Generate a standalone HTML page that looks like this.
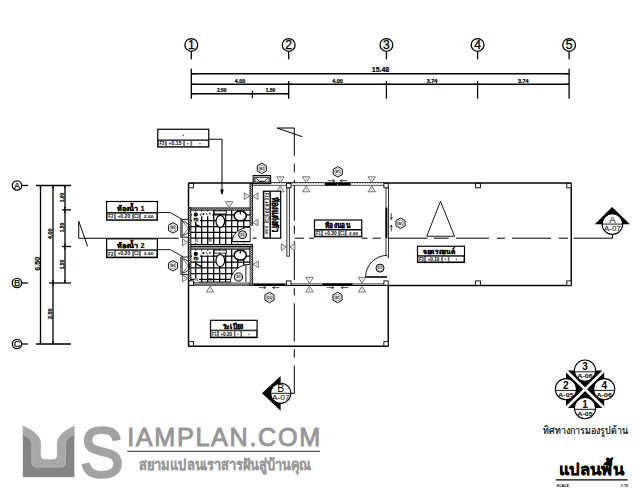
<!DOCTYPE html>
<html><head><meta charset="utf-8"><title>plan</title>
<style>html,body{margin:0;padding:0;background:#fff;overflow:hidden}svg{display:block}text{font-family:"Liberation Sans",sans-serif}</style>
</head><body>
<svg width="640" height="491" viewBox="0 0 640 491" fill="none">
<defs><pattern id="h" width="1.8" height="1.8" patternUnits="userSpaceOnUse"><rect width="1.8" height="1.8" fill="#fff"/><path d="M-0.45 0.45L0.45 -0.45M0 1.8L1.8 0M1.35 2.25L2.25 1.35" stroke="#000" stroke-width="0.8"/></pattern><pattern id="h2" width="2.6" height="2.6" patternUnits="userSpaceOnUse"><rect width="2.6" height="2.6" fill="#fff"/><path d="M0.4 2.2L2.2 0.4" stroke="#222" stroke-width="0.55"/></pattern></defs>
<rect width="640" height="491" fill="#fff"/>
<circle cx="191.3" cy="44.9" r="6.4" fill="none" stroke="#000" stroke-width="1.25"/>
<text x="191.3" y="49.3" font-size="12.2" font-weight="normal" text-anchor="middle" fill="#000" stroke="#000" stroke-width="0.3">1</text>
<line x1="191.3" y1="51.6" x2="191.3" y2="59.3" stroke="#000" stroke-width="1.3" />
<circle cx="288.7" cy="44.9" r="6.4" fill="none" stroke="#000" stroke-width="1.25"/>
<text x="288.7" y="49.3" font-size="12.2" font-weight="normal" text-anchor="middle" fill="#000" stroke="#000" stroke-width="0.3">2</text>
<line x1="288.7" y1="51.6" x2="288.7" y2="59.3" stroke="#000" stroke-width="1.3" />
<circle cx="386.4" cy="44.9" r="6.4" fill="none" stroke="#000" stroke-width="1.25"/>
<text x="386.4" y="49.3" font-size="12.2" font-weight="normal" text-anchor="middle" fill="#000" stroke="#000" stroke-width="0.3">3</text>
<line x1="386.4" y1="51.6" x2="386.4" y2="59.3" stroke="#000" stroke-width="1.3" />
<circle cx="477.6" cy="44.9" r="6.4" fill="none" stroke="#000" stroke-width="1.25"/>
<text x="477.6" y="49.3" font-size="12.2" font-weight="normal" text-anchor="middle" fill="#000" stroke="#000" stroke-width="0.3">4</text>
<line x1="477.6" y1="51.6" x2="477.6" y2="59.3" stroke="#000" stroke-width="1.3" />
<circle cx="569.1" cy="44.9" r="6.4" fill="none" stroke="#000" stroke-width="1.25"/>
<text x="569.1" y="49.3" font-size="12.2" font-weight="normal" text-anchor="middle" fill="#000" stroke="#000" stroke-width="0.3">5</text>
<line x1="569.1" y1="51.6" x2="569.1" y2="59.3" stroke="#000" stroke-width="1.3" />
<line x1="191.3" y1="73.75" x2="569.1" y2="73.75" stroke="#000" stroke-width="1.3" />
<line x1="191.3" y1="84.25" x2="569.1" y2="84.25" stroke="#000" stroke-width="1.3" />
<line x1="191.3" y1="93.75" x2="288.7" y2="93.75" stroke="#000" stroke-width="1.3" />
<line x1="191.3" y1="68.75" x2="191.3" y2="98.75" stroke="#000" stroke-width="1.3" />
<line x1="288.7" y1="81" x2="288.7" y2="98.75" stroke="#000" stroke-width="1.3" />
<line x1="252.4" y1="90.75" x2="252.4" y2="98" stroke="#000" stroke-width="1.3" />
<line x1="386.4" y1="81" x2="386.4" y2="98.75" stroke="#000" stroke-width="1.3" />
<line x1="477.6" y1="81" x2="477.6" y2="98.75" stroke="#000" stroke-width="1.3" />
<line x1="569.1" y1="68.75" x2="569.1" y2="98.75" stroke="#000" stroke-width="1.3" />
<polygon points="191.3,73.75 194.1,73 194.1,74.5" fill="#000" stroke="#000" stroke-width="0.2" />
<polygon points="569.1,73.75 566.3,74.5 566.3,73" fill="#000" stroke="#000" stroke-width="0.2" />
<polygon points="191.3,84.25 194.1,83.5 194.1,85" fill="#000" stroke="#000" stroke-width="0.2" />
<polygon points="288.7,84.25 285.9,85 285.9,83.5" fill="#000" stroke="#000" stroke-width="0.2" />
<polygon points="288.7,84.25 291.5,83.5 291.5,85" fill="#000" stroke="#000" stroke-width="0.2" />
<polygon points="386.4,84.25 383.6,85 383.6,83.5" fill="#000" stroke="#000" stroke-width="0.2" />
<polygon points="386.4,84.25 389.2,83.5 389.2,85" fill="#000" stroke="#000" stroke-width="0.2" />
<polygon points="477.6,84.25 474.8,85 474.8,83.5" fill="#000" stroke="#000" stroke-width="0.2" />
<polygon points="477.6,84.25 480.4,83.5 480.4,85" fill="#000" stroke="#000" stroke-width="0.2" />
<polygon points="569.1,84.25 566.3,85 566.3,83.5" fill="#000" stroke="#000" stroke-width="0.2" />
<polygon points="191.3,93.75 194.1,93 194.1,94.5" fill="#000" stroke="#000" stroke-width="0.2" />
<polygon points="252.4,93.75 249.6,94.5 249.6,93" fill="#000" stroke="#000" stroke-width="0.2" />
<polygon points="252.4,93.75 255.2,93 255.2,94.5" fill="#000" stroke="#000" stroke-width="0.2" />
<polygon points="288.7,93.75 285.9,94.5 285.9,93" fill="#000" stroke="#000" stroke-width="0.2" />
<text x="380.5" y="72.3" font-size="7.2" font-weight="bold" text-anchor="middle" fill="#000" textLength="17.5" lengthAdjust="spacingAndGlyphs" stroke="#000" stroke-width="0.2">15.48</text>
<text x="240" y="82.7" font-size="4.8" font-weight="bold" text-anchor="middle" fill="#000" textLength="10.6" lengthAdjust="spacingAndGlyphs" stroke="#000" stroke-width="0.2">4.00</text>
<text x="337.5" y="82.7" font-size="4.8" font-weight="bold" text-anchor="middle" fill="#000" textLength="10.6" lengthAdjust="spacingAndGlyphs" stroke="#000" stroke-width="0.2">4.00</text>
<text x="432" y="82.7" font-size="4.8" font-weight="bold" text-anchor="middle" fill="#000" textLength="10.6" lengthAdjust="spacingAndGlyphs" stroke="#000" stroke-width="0.2">3.74</text>
<text x="523.2" y="82.7" font-size="4.8" font-weight="bold" text-anchor="middle" fill="#000" textLength="10.6" lengthAdjust="spacingAndGlyphs" stroke="#000" stroke-width="0.2">3.74</text>
<text x="221.75" y="92.3" font-size="4.6" font-weight="bold" text-anchor="middle" fill="#000" textLength="9.6" lengthAdjust="spacingAndGlyphs" stroke="#000" stroke-width="0.2">2.50</text>
<text x="270.5" y="92.3" font-size="4.6" font-weight="bold" text-anchor="middle" fill="#000" textLength="9.6" lengthAdjust="spacingAndGlyphs" stroke="#000" stroke-width="0.2">1.50</text>
<circle cx="17" cy="185.5" r="4.7" fill="none" stroke="#000" stroke-width="1.3"/>
<text x="17" y="188.8" font-size="9.2" font-weight="normal" text-anchor="middle" fill="#000" stroke="#000" stroke-width="0.25">A</text>
<line x1="21.6" y1="185.5" x2="28" y2="185.5" stroke="#000" stroke-width="1.3" />
<circle cx="17" cy="283" r="4.7" fill="none" stroke="#000" stroke-width="1.3"/>
<text x="17" y="286.3" font-size="9.2" font-weight="normal" text-anchor="middle" fill="#000" stroke="#000" stroke-width="0.25">B</text>
<line x1="21.6" y1="283" x2="28" y2="283" stroke="#000" stroke-width="1.3" />
<circle cx="17" cy="344" r="4.7" fill="none" stroke="#000" stroke-width="1.3"/>
<text x="17" y="347.3" font-size="9.2" font-weight="normal" text-anchor="middle" fill="#000" stroke="#000" stroke-width="0.25">C</text>
<line x1="21.6" y1="344" x2="28" y2="344" stroke="#000" stroke-width="1.3" />
<line x1="36" y1="185.5" x2="71" y2="185.5" stroke="#000" stroke-width="1.3" />
<line x1="49" y1="283" x2="71" y2="283" stroke="#000" stroke-width="1.3" />
<line x1="36" y1="344" x2="71" y2="344" stroke="#000" stroke-width="1.3" />
<line x1="62" y1="209.9" x2="71" y2="209.9" stroke="#000" stroke-width="1.3" />
<line x1="62" y1="246.5" x2="71" y2="246.5" stroke="#000" stroke-width="1.3" />
<line x1="40.5" y1="185.5" x2="40.5" y2="344" stroke="#000" stroke-width="1.3" />
<line x1="53" y1="185.5" x2="53" y2="344" stroke="#000" stroke-width="1.3" />
<line x1="65" y1="185.5" x2="65" y2="283" stroke="#000" stroke-width="1.3" />
<polygon points="40.5,185.5 41.25,188.3 39.75,188.3" fill="#000" stroke="#000" stroke-width="0.2" />
<polygon points="40.5,344 39.75,341.2 41.25,341.2" fill="#000" stroke="#000" stroke-width="0.2" />
<polygon points="53,185.5 53.75,188.3 52.25,188.3" fill="#000" stroke="#000" stroke-width="0.2" />
<polygon points="53,283 52.25,280.2 53.75,280.2" fill="#000" stroke="#000" stroke-width="0.2" />
<polygon points="53,283 53.75,285.8 52.25,285.8" fill="#000" stroke="#000" stroke-width="0.2" />
<polygon points="53,344 52.25,341.2 53.75,341.2" fill="#000" stroke="#000" stroke-width="0.2" />
<polygon points="65,185.5 65.75,188.3 64.25,188.3" fill="#000" stroke="#000" stroke-width="0.2" />
<polygon points="65,209.9 64.25,207.1 65.75,207.1" fill="#000" stroke="#000" stroke-width="0.2" />
<polygon points="65,209.9 65.75,212.7 64.25,212.7" fill="#000" stroke="#000" stroke-width="0.2" />
<polygon points="65,246.5 64.25,243.7 65.75,243.7" fill="#000" stroke="#000" stroke-width="0.2" />
<polygon points="65,246.5 65.75,249.3 64.25,249.3" fill="#000" stroke="#000" stroke-width="0.2" />
<polygon points="65,283 64.25,280.2 65.75,280.2" fill="#000" stroke="#000" stroke-width="0.2" />
<text x="39.6" y="263.75" font-size="7.2" font-weight="bold" text-anchor="middle" fill="#000" transform="rotate(-90 39.6 263.75)" textLength="14" lengthAdjust="spacingAndGlyphs" stroke="#000" stroke-width="0.2">6.50</text>
<text x="52.1" y="233.75" font-size="4.8" font-weight="bold" text-anchor="middle" fill="#000" transform="rotate(-90 52.1 233.75)" textLength="10.6" lengthAdjust="spacingAndGlyphs" stroke="#000" stroke-width="0.2">4.00</text>
<text x="52.1" y="313.75" font-size="4.8" font-weight="bold" text-anchor="middle" fill="#000" transform="rotate(-90 52.1 313.75)" textLength="10.6" lengthAdjust="spacingAndGlyphs" stroke="#000" stroke-width="0.2">2.50</text>
<text x="64.3" y="197.5" font-size="4.6" font-weight="bold" text-anchor="middle" fill="#000" transform="rotate(-90 64.3 197.5)" textLength="9.6" lengthAdjust="spacingAndGlyphs" stroke="#000" stroke-width="0.2">1.00</text>
<text x="64.3" y="227.5" font-size="4.6" font-weight="bold" text-anchor="middle" fill="#000" transform="rotate(-90 64.3 227.5)" textLength="9.6" lengthAdjust="spacingAndGlyphs" stroke="#000" stroke-width="0.2">1.50</text>
<text x="64.3" y="264.5" font-size="4.6" font-weight="bold" text-anchor="middle" fill="#000" transform="rotate(-90 64.3 264.5)" textLength="9.6" lengthAdjust="spacingAndGlyphs" stroke="#000" stroke-width="0.2">1.50</text>
<polyline points="87.5,246.25 78.75,221.25 78.75,238.25 178.7,238.25" fill="none" stroke="#000" stroke-width="1" />
<polyline points="302.3,136.7 277.1,128 294.4,128" fill="none" stroke="#000" stroke-width="1" />
<line x1="294.3" y1="128" x2="294.3" y2="155.6" stroke="#000" stroke-width="1" />
<line x1="294.3" y1="163.5" x2="294.3" y2="172.5" stroke="#000" stroke-width="1" />
<line x1="294.3" y1="180" x2="294.3" y2="220.8" stroke="#000" stroke-width="1" />
<line x1="294.3" y1="225.7" x2="294.3" y2="233.8" stroke="#000" stroke-width="1" />
<line x1="294.3" y1="241.1" x2="294.3" y2="280.2" stroke="#000" stroke-width="1" />
<line x1="294.3" y1="288.2" x2="294.3" y2="295.5" stroke="#000" stroke-width="1" />
<line x1="294.3" y1="303.3" x2="294.3" y2="341.6" stroke="#000" stroke-width="1" />
<line x1="294.3" y1="349.2" x2="294.3" y2="357.5" stroke="#000" stroke-width="1" />
<line x1="294.3" y1="365.4" x2="294.3" y2="393.3" stroke="#000" stroke-width="1" />
<line x1="248.5" y1="238.2" x2="256.6" y2="238.2" stroke="#000" stroke-width="1" />
<line x1="294.7" y1="238.2" x2="304" y2="238.2" stroke="#000" stroke-width="1" />
<line x1="309" y1="238.2" x2="314" y2="238.2" stroke="#000" stroke-width="1" />
<line x1="361.75" y1="238.2" x2="367.5" y2="238.2" stroke="#000" stroke-width="1" />
<line x1="372.5" y1="238.2" x2="380.7" y2="238.2" stroke="#000" stroke-width="1" />
<line x1="388.5" y1="238.2" x2="427.5" y2="238.2" stroke="#000" stroke-width="1" />
<line x1="433.75" y1="238.2" x2="448.75" y2="238.2" stroke="#000" stroke-width="1" />
<line x1="456" y1="238.2" x2="489" y2="238.2" stroke="#000" stroke-width="1" />
<line x1="497" y1="238.2" x2="505" y2="238.2" stroke="#000" stroke-width="1" />
<line x1="512" y1="238.2" x2="551" y2="238.2" stroke="#000" stroke-width="1" />
<line x1="558.75" y1="238.2" x2="568" y2="238.2" stroke="#000" stroke-width="1" />
<polyline points="573.75,238.2 612.5,238.2 612.5,234.5" fill="none" stroke="#000" stroke-width="1" />
<line x1="294.3" y1="393.3" x2="290" y2="393.3" stroke="#000" stroke-width="1" />
<line x1="188.5" y1="183" x2="571.25" y2="183" stroke="#000" stroke-width="1.45" />
<line x1="571.25" y1="183" x2="571.25" y2="285.5" stroke="#000" stroke-width="1.45" />
<line x1="388.25" y1="285.5" x2="571.25" y2="285.5" stroke="#000" stroke-width="1.45" />
<line x1="188.5" y1="183" x2="188.5" y2="346.25" stroke="#000" stroke-width="1.45" />
<line x1="188.5" y1="346.25" x2="388.25" y2="346.25" stroke="#000" stroke-width="1.45" />
<line x1="388.25" y1="285.5" x2="388.25" y2="346.25" stroke="#000" stroke-width="1.45" />
<polygon points="426.75,236.25 440.5,201.25 454.5,236.25" fill="none" stroke="#000" stroke-width="0.9" />
<line x1="252.5" y1="185.2" x2="386" y2="185.2" stroke="#000" stroke-width="0.9" />
<rect x="271" y="183" width="115" height="2.1" fill="url(#h2)" stroke="#000" stroke-width="0" />
<line x1="253" y1="283.6" x2="386" y2="283.6" stroke="#000" stroke-width="0.8" />
<rect x="253" y="283.6" width="133" height="1.8" fill="url(#h2)" stroke="#000" stroke-width="0" />
<line x1="253" y1="285.4" x2="388" y2="285.4" stroke="#000" stroke-width="1.1" />
<rect x="286.9" y="187.8" width="2.4" height="68.4" fill="#fff" stroke="#000" stroke-width="0.8" />
<rect x="386" y="187.8" width="2.6" height="69.4" fill="#fff" stroke="#000" stroke-width="0.8" />
<rect x="385.5" y="207.6" width="1.9" height="30.6" fill="#000" stroke="#000" stroke-width="0" />
<rect x="324.8" y="182.8" width="25.9" height="2.7" fill="#000" stroke="#000" stroke-width="0" />
<line x1="337.5" y1="183.6" x2="337.5" y2="185.5" stroke="#fff" stroke-width="0.6" />
<rect x="322.5" y="283.4" width="30" height="2.5" fill="#000" stroke="#000" stroke-width="0" />
<rect x="253.75" y="283.8" width="31.25" height="2.1" fill="#000" stroke="#000" stroke-width="0" />
<rect x="188.5" y="208" width="64" height="77" fill="#fff" stroke="#000" stroke-width="0" />
<line x1="195.7" y1="210" x2="195.7" y2="244.5" stroke="#000" stroke-width="1.25" />
<line x1="195.7" y1="249.2" x2="195.7" y2="282" stroke="#000" stroke-width="1.25" />
<line x1="201.7" y1="210" x2="201.7" y2="244.5" stroke="#000" stroke-width="1.25" />
<line x1="201.7" y1="249.2" x2="201.7" y2="282" stroke="#000" stroke-width="1.25" />
<line x1="207.7" y1="210" x2="207.7" y2="244.5" stroke="#000" stroke-width="1.25" />
<line x1="207.7" y1="249.2" x2="207.7" y2="282" stroke="#000" stroke-width="1.25" />
<line x1="213.7" y1="210" x2="213.7" y2="244.5" stroke="#000" stroke-width="1.25" />
<line x1="213.7" y1="249.2" x2="213.7" y2="282" stroke="#000" stroke-width="1.25" />
<line x1="219.7" y1="210" x2="219.7" y2="244.5" stroke="#000" stroke-width="1.25" />
<line x1="219.7" y1="249.2" x2="219.7" y2="282" stroke="#000" stroke-width="1.25" />
<line x1="225.7" y1="210" x2="225.7" y2="244.5" stroke="#000" stroke-width="1.25" />
<line x1="225.7" y1="249.2" x2="225.7" y2="282" stroke="#000" stroke-width="1.25" />
<line x1="231.7" y1="210" x2="231.7" y2="244.5" stroke="#000" stroke-width="1.25" />
<line x1="231.7" y1="249.2" x2="231.7" y2="282" stroke="#000" stroke-width="1.25" />
<line x1="237.7" y1="210" x2="237.7" y2="244.5" stroke="#000" stroke-width="1.25" />
<line x1="237.7" y1="249.2" x2="237.7" y2="282" stroke="#000" stroke-width="1.25" />
<line x1="243.7" y1="210" x2="243.7" y2="244.5" stroke="#000" stroke-width="1.25" />
<line x1="243.7" y1="249.2" x2="243.7" y2="282" stroke="#000" stroke-width="1.25" />
<line x1="191" y1="214.9" x2="250" y2="214.9" stroke="#000" stroke-width="1.25" />
<line x1="191" y1="220.7" x2="250" y2="220.7" stroke="#000" stroke-width="1.25" />
<line x1="191" y1="226.5" x2="250" y2="226.5" stroke="#000" stroke-width="1.25" />
<line x1="191" y1="232.3" x2="250" y2="232.3" stroke="#000" stroke-width="1.25" />
<line x1="191" y1="238.1" x2="250" y2="238.1" stroke="#000" stroke-width="1.25" />
<line x1="191" y1="256.2" x2="250" y2="256.2" stroke="#000" stroke-width="1.25" />
<line x1="191" y1="262" x2="250" y2="262" stroke="#000" stroke-width="1.25" />
<line x1="191" y1="267.8" x2="250" y2="267.8" stroke="#000" stroke-width="1.25" />
<line x1="191" y1="273.6" x2="250" y2="273.6" stroke="#000" stroke-width="1.25" />
<line x1="191" y1="279.4" x2="250" y2="279.4" stroke="#000" stroke-width="1.25" />
<rect x="188.5" y="207.9" width="63.9" height="2.3" fill="url(#h)" stroke="#000" stroke-width="0.8" />
<rect x="188.5" y="244.5" width="63.9" height="1.7" fill="#fff" stroke="#000" stroke-width="1.0" />
<rect x="188.5" y="246.4" width="63.9" height="2.8" fill="url(#h)" stroke="#000" stroke-width="0.8" />
<rect x="188.5" y="282" width="63.9" height="3.2" fill="url(#h)" stroke="#000" stroke-width="0.8" />
<rect x="188.5" y="207.9" width="2.4" height="77.3" fill="url(#h)" stroke="#000" stroke-width="0.8" />
<rect x="250" y="183.4" width="2.5" height="41.8" fill="url(#h)" stroke="#000" stroke-width="0.8" />
<rect x="249.8" y="246.6" width="2.9" height="38.6" fill="url(#h)" stroke="#000" stroke-width="0.8" />
<rect x="232" y="240.5" width="18" height="3.1" fill="#fff" stroke="#000" stroke-width="0" />
<path d="M250.2 241.4L232.1 241.4A18.1 14.2 0 0 1 250.2 227.2Z" fill="#fff" stroke="none"/>
<path d="M232.1 241.4A18.1 14.2 0 0 1 250.2 227.2" fill="none" stroke="#000" stroke-width="0.9"/>
<line x1="232.1" y1="241.6" x2="250.4" y2="241.6" stroke="#000" stroke-width="1.3" />
<line x1="250.2" y1="227" x2="250.2" y2="241.4" stroke="#000" stroke-width="0.8" />
<rect x="230" y="281" width="19.8" height="1" fill="#fff" stroke="#000" stroke-width="0" />
<path d="M249.7 282.4L230.3 282.4A19.4 18 0 0 1 249.7 264.4Z" fill="#fff" stroke="none"/>
<path d="M230.3 282.4A19.4 18 0 0 1 249.7 264.4" fill="none" stroke="#000" stroke-width="0.9"/>
<line x1="245.9" y1="264.6" x2="245.9" y2="282.2" stroke="#000" stroke-width="0.9" />
<circle cx="242.5" cy="234.7" r="4" fill="#fff" stroke="#000" stroke-width="1.0"/>
<circle cx="242.5" cy="234.7" r="2.9" fill="none" stroke="#555" stroke-width="0.4"/>
<text x="242.5" y="235.91" font-size="3.4" font-weight="bold" text-anchor="middle" fill="#000" textLength="4" lengthAdjust="spacingAndGlyphs">D3</text>
<circle cx="238.5" cy="277" r="4.1" fill="#fff" stroke="#000" stroke-width="1.0"/>
<circle cx="238.5" cy="277" r="3" fill="none" stroke="#555" stroke-width="0.4"/>
<text x="238.5" y="278.21" font-size="3.4" font-weight="bold" text-anchor="middle" fill="#000" textLength="4" lengthAdjust="spacingAndGlyphs">D3</text>
<rect x="214.2" y="210.9" width="12.1" height="3" fill="#fff" stroke="#000" stroke-width="0.8" />
<ellipse cx="220.3" cy="221.3" rx="4.3" ry="6" fill="#fff" stroke="#000" stroke-width="1.15"/>
<ellipse cx="240.25" cy="215.9" rx="6.1" ry="4.9" fill="#fff" stroke="#000" stroke-width="1.5"/>
<line x1="240.25" y1="211.6" x2="240.25" y2="214.6" stroke="#000" stroke-width="1.2" />
<rect x="192" y="211.3" width="7.8" height="10.3" fill="#fff" stroke="#000" stroke-width="0" />
<circle cx="195.8" cy="214.6" r="2.1" fill="#000" stroke="#000" stroke-width="0"/>
<rect x="201.2" y="211.3" width="11.2" height="4.9" fill="#fff" stroke="#000" stroke-width="0" />
<circle cx="203.4" cy="214" r="1.1" fill="#222" stroke="#000" stroke-width="0"/>
<line x1="205.8" y1="212.5" x2="207.8" y2="215.3" stroke="#333" stroke-width="0.9" />
<circle cx="209.9" cy="213.6" r="1" fill="#444" stroke="#000" stroke-width="0"/>
<text x="196" y="220.6" font-size="3.5" font-weight="bold" text-anchor="middle" fill="#000" stroke="#000" stroke-width="0.3">FD</text>
<line x1="196.2" y1="224.8" x2="201.6" y2="227.4" stroke="#000" stroke-width="1.2" />
<circle cx="195.9" cy="224.4" r="0.9" fill="#000" stroke="#000" stroke-width="0"/>
<rect x="194.5" y="239" width="4.5" height="4" fill="#fff" stroke="#000" stroke-width="0" />
<text x="196.6" y="242.2" font-size="2.6" font-weight="bold" text-anchor="middle" fill="#000" >F2</text>
<text x="210.3" y="242.2" font-size="2.6" font-weight="bold" text-anchor="middle" fill="#000" >F2</text>
<rect x="214.2" y="250.1" width="12.1" height="3" fill="#fff" stroke="#000" stroke-width="0.8" />
<ellipse cx="220.3" cy="260.5" rx="4.3" ry="6" fill="#fff" stroke="#000" stroke-width="1.15"/>
<ellipse cx="240.25" cy="255.1" rx="6.1" ry="4.9" fill="#fff" stroke="#000" stroke-width="1.5"/>
<line x1="240.25" y1="250.8" x2="240.25" y2="253.8" stroke="#000" stroke-width="1.2" />
<rect x="192" y="250.5" width="7.8" height="10.3" fill="#fff" stroke="#000" stroke-width="0" />
<circle cx="195.8" cy="253.8" r="2.1" fill="#000" stroke="#000" stroke-width="0"/>
<rect x="201.2" y="250.5" width="11.2" height="4.9" fill="#fff" stroke="#000" stroke-width="0" />
<circle cx="203.4" cy="253.2" r="1.1" fill="#222" stroke="#000" stroke-width="0"/>
<line x1="205.8" y1="251.7" x2="207.8" y2="254.5" stroke="#333" stroke-width="0.9" />
<circle cx="209.9" cy="252.8" r="1" fill="#444" stroke="#000" stroke-width="0"/>
<text x="196" y="259.8" font-size="3.5" font-weight="bold" text-anchor="middle" fill="#000" stroke="#000" stroke-width="0.3">FD</text>
<line x1="196.2" y1="264" x2="201.6" y2="266.6" stroke="#000" stroke-width="1.2" />
<circle cx="195.9" cy="263.6" r="0.9" fill="#000" stroke="#000" stroke-width="0"/>
<rect x="194.5" y="278.2" width="4.5" height="4" fill="#fff" stroke="#000" stroke-width="0" />
<text x="196.6" y="281.4" font-size="2.6" font-weight="bold" text-anchor="middle" fill="#000" >F2</text>
<text x="210.3" y="281.4" font-size="2.6" font-weight="bold" text-anchor="middle" fill="#000" >F2</text>
<rect x="180.9" y="219.6" width="7.6" height="17.6" fill="#fff" stroke="#000" stroke-width="0.9" />
<rect x="180.9" y="219.6" width="2.1" height="17.6" fill="#777" stroke="#000" stroke-width="0" />
<path d="M183 221.6A6.6 6.8 0 0 1 183 235.2" fill="none" stroke="#111" stroke-width="0.9"/>
<polyline points="181.5,219.9 188.3,228.4 181.5,236.9" fill="none" stroke="#333" stroke-width="0.7" />
<rect x="180.9" y="257" width="7.6" height="17.6" fill="#fff" stroke="#000" stroke-width="0.9" />
<rect x="180.9" y="257" width="2.1" height="17.6" fill="#777" stroke="#000" stroke-width="0" />
<path d="M183 259A6.6 6.8 0 0 1 183 272.6" fill="none" stroke="#111" stroke-width="0.9"/>
<polyline points="181.5,257.3 188.3,265.8 181.5,274.3" fill="none" stroke="#333" stroke-width="0.7" />
<rect x="253.2" y="175.5" width="17.4" height="7.7" fill="#fff" stroke="#000" stroke-width="1.1" />
<rect x="254.9" y="177.2" width="14.2" height="4.9" fill="none" stroke="#000" stroke-width="1.0" />
<polyline points="256.3,178.4 259.5,181.3 264.4,181.3 267.7,178.4" fill="none" stroke="#000" stroke-width="0.95" />
<rect x="188.9" y="183.4" width="4.5" height="4.4" fill="#fff" stroke="#000" stroke-width="0.9" />
<rect x="188.9" y="280.9" width="4.5" height="4.4" fill="#fff" stroke="#000" stroke-width="0.9" />
<rect x="286.4" y="183.4" width="4.6" height="4.4" fill="#fff" stroke="#000" stroke-width="0.9" />
<rect x="286.4" y="280.9" width="4.6" height="4.4" fill="#fff" stroke="#000" stroke-width="0.9" />
<rect x="383.9" y="183.4" width="4.3" height="4.4" fill="#fff" stroke="#000" stroke-width="0.9" />
<rect x="383.9" y="280.9" width="4.3" height="4.4" fill="#fff" stroke="#000" stroke-width="0.9" />
<rect x="475.6" y="183.4" width="4.8" height="4.4" fill="#fff" stroke="#000" stroke-width="0.9" />
<rect x="475.6" y="280.9" width="4.8" height="4.4" fill="#fff" stroke="#000" stroke-width="0.9" />
<rect x="566.8" y="183.4" width="4.4" height="4.4" fill="#fff" stroke="#000" stroke-width="0.9" />
<rect x="566.8" y="280.9" width="4.4" height="4.4" fill="#fff" stroke="#000" stroke-width="0.9" />
<rect x="188.9" y="341.6" width="4.5" height="4.4" fill="#fff" stroke="#000" stroke-width="0.9" />
<rect x="383.9" y="341.6" width="4.3" height="4.4" fill="#fff" stroke="#000" stroke-width="0.9" />
<polygon points="173,222.65 177.55,225.28 177.55,230.53 173,233.15 168.45,230.53 168.45,225.28" fill="#fff" stroke="#000" stroke-width="0.95" />
<circle cx="173" cy="227.9" r="3.1" fill="none" stroke="#444" stroke-width="0.5"/>
<text x="173" y="229.2" font-size="3.6" font-weight="bold" text-anchor="middle" fill="#000" textLength="4.4" lengthAdjust="spacingAndGlyphs">W2</text>
<polygon points="173,260.5 177.55,263.12 177.55,268.38 173,271 168.45,268.38 168.45,263.12" fill="#fff" stroke="#000" stroke-width="0.95" />
<circle cx="173" cy="265.75" r="3.1" fill="none" stroke="#444" stroke-width="0.5"/>
<text x="173" y="267.05" font-size="3.6" font-weight="bold" text-anchor="middle" fill="#000" textLength="4.4" lengthAdjust="spacingAndGlyphs">W2</text>
<polygon points="261.8,163.15 266.35,165.78 266.35,171.03 261.8,173.65 257.25,171.03 257.25,165.78" fill="#fff" stroke="#000" stroke-width="0.95" />
<circle cx="261.8" cy="168.4" r="3.1" fill="none" stroke="#444" stroke-width="0.5"/>
<text x="261.8" y="169.7" font-size="3.6" font-weight="bold" text-anchor="middle" fill="#000" textLength="4.4" lengthAdjust="spacingAndGlyphs">W2</text>
<polygon points="337.8,166.55 342.35,169.18 342.35,174.43 337.8,177.05 333.25,174.43 333.25,169.18" fill="#fff" stroke="#000" stroke-width="0.95" />
<circle cx="337.8" cy="171.8" r="3.1" fill="none" stroke="#444" stroke-width="0.5"/>
<text x="337.8" y="173.1" font-size="3.6" font-weight="bold" text-anchor="middle" fill="#000" textLength="4.4" lengthAdjust="spacingAndGlyphs">W1</text>
<polygon points="400.5,218 405.05,220.62 405.05,225.88 400.5,228.5 395.95,225.88 395.95,220.62" fill="#fff" stroke="#000" stroke-width="0.95" />
<circle cx="400.5" cy="223.25" r="3.1" fill="none" stroke="#444" stroke-width="0.5"/>
<text x="400.5" y="224.55" font-size="3.6" font-weight="bold" text-anchor="middle" fill="#000" textLength="4.4" lengthAdjust="spacingAndGlyphs">W1</text>
<polygon points="337.5,292.25 342.05,294.88 342.05,300.12 337.5,302.75 332.95,300.12 332.95,294.88" fill="#fff" stroke="#000" stroke-width="0.95" />
<circle cx="337.5" cy="297.5" r="3.1" fill="none" stroke="#444" stroke-width="0.5"/>
<text x="337.5" y="298.8" font-size="3.6" font-weight="bold" text-anchor="middle" fill="#000" textLength="4.4" lengthAdjust="spacingAndGlyphs">W1</text>
<polygon points="269.5,292.25 274.05,294.88 274.05,300.12 269.5,302.75 264.95,300.12 264.95,294.88" fill="#fff" stroke="#000" stroke-width="0.95" />
<circle cx="269.5" cy="297.5" r="3.1" fill="none" stroke="#444" stroke-width="0.5"/>
<text x="269.5" y="298.8" font-size="3.6" font-weight="bold" text-anchor="middle" fill="#000" textLength="4.4" lengthAdjust="spacingAndGlyphs">D2</text>
<path d="M387.2 277L365.6 277A21.6 21.6 0 0 1 387.2 255.4Z" fill="#fff" stroke="none"/>
<path d="M365.6 277A21.6 21.6 0 0 1 387.2 255.4" fill="none" stroke="#000" stroke-width="0.9"/>
<line x1="365.5" y1="277" x2="387" y2="277" stroke="#000" stroke-width="1.6" />
<circle cx="380" cy="268.1" r="4" fill="#fff" stroke="#000" stroke-width="1.0"/>
<circle cx="380" cy="268.1" r="2.9" fill="none" stroke="#555" stroke-width="0.4"/>
<text x="380" y="269.35" font-size="3.5" font-weight="bold" text-anchor="middle" fill="#000" textLength="4" lengthAdjust="spacingAndGlyphs">D1</text>
<line x1="327.7" y1="180.7" x2="335" y2="180.7" stroke="#000" stroke-width="0.7" />
<polyline points="332.6,179.4 335,180.7 332.6,182" fill="none" stroke="#000" stroke-width="0.6" />
<line x1="347.2" y1="180.7" x2="339.9" y2="180.7" stroke="#000" stroke-width="0.7" />
<polyline points="342.3,179.4 339.9,180.7 342.3,182" fill="none" stroke="#000" stroke-width="0.6" />
<line x1="326.5" y1="287.6" x2="334" y2="287.6" stroke="#000" stroke-width="0.7" />
<polyline points="331.6,286.3 334,287.6 331.6,288.9" fill="none" stroke="#000" stroke-width="0.6" />
<line x1="348.5" y1="287.6" x2="341" y2="287.6" stroke="#000" stroke-width="0.7" />
<polyline points="343.4,286.3 341,287.6 343.4,288.9" fill="none" stroke="#000" stroke-width="0.6" />
<line x1="259" y1="287.6" x2="266" y2="287.6" stroke="#000" stroke-width="0.7" />
<polyline points="263.6,286.3 266,287.6 263.6,288.9" fill="none" stroke="#000" stroke-width="0.6" />
<line x1="279.5" y1="287.6" x2="272.5" y2="287.6" stroke="#000" stroke-width="0.7" />
<polyline points="274.9,286.3 272.5,287.6 274.9,288.9" fill="none" stroke="#000" stroke-width="0.6" />
<line x1="391.3" y1="213" x2="391.3" y2="219.5" stroke="#000" stroke-width="0.7" />
<polyline points="390,217.1 391.3,219.5 392.6,217.1" fill="none" stroke="#000" stroke-width="0.6" />
<line x1="391.3" y1="231.5" x2="391.3" y2="225" stroke="#000" stroke-width="0.7" />
<polyline points="390,227.4 391.3,225 392.6,227.4" fill="none" stroke="#000" stroke-width="0.6" />
<polygon points="276.6,176.8 284,176.8 280.3,182.6" fill="#fff" stroke="#5c5c5c" stroke-width="0.85" />
<text x="280.3" y="179.73" font-size="2.6" font-weight="bold" text-anchor="middle" fill="#777" >1</text>
<polygon points="276.6,191.8 284,191.8 280.3,186" fill="#fff" stroke="#5c5c5c" stroke-width="0.85" />
<text x="280.3" y="190.87" font-size="2.6" font-weight="bold" text-anchor="middle" fill="#777" >1</text>
<polygon points="302.5,176.8 309.9,176.8 306.2,182.6" fill="#fff" stroke="#5c5c5c" stroke-width="0.85" />
<text x="306.2" y="179.73" font-size="2.6" font-weight="bold" text-anchor="middle" fill="#777" >1</text>
<polygon points="302.5,191.8 309.9,191.8 306.2,186" fill="#fff" stroke="#5c5c5c" stroke-width="0.85" />
<text x="306.2" y="190.87" font-size="2.6" font-weight="bold" text-anchor="middle" fill="#777" >1</text>
<polygon points="368,176.8 375.4,176.8 371.7,182.6" fill="#fff" stroke="#5c5c5c" stroke-width="0.85" />
<text x="371.7" y="179.73" font-size="2.6" font-weight="bold" text-anchor="middle" fill="#777" >1</text>
<polygon points="368,191.8 375.4,191.8 371.7,186" fill="#fff" stroke="#5c5c5c" stroke-width="0.85" />
<text x="371.7" y="190.87" font-size="2.6" font-weight="bold" text-anchor="middle" fill="#777" >1</text>
<polygon points="305.8,277.4 313.2,277.4 309.5,283.2" fill="#fff" stroke="#5c5c5c" stroke-width="0.85" />
<text x="309.5" y="280.33" font-size="2.6" font-weight="bold" text-anchor="middle" fill="#777" >1</text>
<polygon points="305.8,292 313.2,292 309.5,286.2" fill="#fff" stroke="#5c5c5c" stroke-width="0.85" />
<text x="309.5" y="291.07" font-size="2.6" font-weight="bold" text-anchor="middle" fill="#777" >1</text>
<polygon points="358.3,277.4 365.7,277.4 362,283.2" fill="#fff" stroke="#5c5c5c" stroke-width="0.85" />
<text x="362" y="280.33" font-size="2.6" font-weight="bold" text-anchor="middle" fill="#777" >1</text>
<polygon points="358.3,292 365.7,292 362,286.2" fill="#fff" stroke="#5c5c5c" stroke-width="0.85" />
<text x="362" y="291.07" font-size="2.6" font-weight="bold" text-anchor="middle" fill="#777" >1</text>
<polygon points="206.3,292 213.7,292 210,286.2" fill="#fff" stroke="#5c5c5c" stroke-width="0.85" />
<text x="210" y="291.07" font-size="2.6" font-weight="bold" text-anchor="middle" fill="#777" >1</text>
<polygon points="225.5,201.7 232.9,201.7 229.2,207.5" fill="#fff" stroke="#5c5c5c" stroke-width="0.85" />
<text x="229.2" y="204.63" font-size="2.6" font-weight="bold" text-anchor="middle" fill="#777" >1</text>
<polygon points="244.3,192.8 244.3,199.6 249.4,196.2" fill="#fff" stroke="#5c5c5c" stroke-width="0.85" />
<text x="246" y="197.2" font-size="2.6" font-weight="bold" text-anchor="middle" fill="#777" >1</text>
<polygon points="258,192.8 258,199.6 252.9,196.2" fill="#fff" stroke="#5c5c5c" stroke-width="0.85" />
<text x="256.3" y="197.2" font-size="2.6" font-weight="bold" text-anchor="middle" fill="#777" >1</text>
<polygon points="258,219.1 258,225.9 252.9,222.5" fill="#fff" stroke="#5c5c5c" stroke-width="0.85" />
<text x="256.3" y="223.5" font-size="2.6" font-weight="bold" text-anchor="middle" fill="#777" >1</text>
<polygon points="281.3,243.6 281.3,250.4 286.4,247" fill="#fff" stroke="#5c5c5c" stroke-width="0.85" />
<text x="283" y="248" font-size="2.6" font-weight="bold" text-anchor="middle" fill="#777" >1</text>
<polygon points="294.9,243.6 294.9,250.4 289.8,247" fill="#fff" stroke="#5c5c5c" stroke-width="0.85" />
<text x="293.2" y="248" font-size="2.6" font-weight="bold" text-anchor="middle" fill="#777" >1</text>
<polygon points="258.3,260.9 258.3,267.7 253.2,264.3" fill="#fff" stroke="#5c5c5c" stroke-width="0.85" />
<text x="256.6" y="265.3" font-size="2.6" font-weight="bold" text-anchor="middle" fill="#777" >1</text>
<polygon points="182.5,238.8 182.5,245.6 187.6,242.2" fill="#fff" stroke="#5c5c5c" stroke-width="0.85" />
<text x="184.2" y="243.2" font-size="2.6" font-weight="bold" text-anchor="middle" fill="#777" >1</text>
<polygon points="182.5,275 182.5,281.8 187.6,278.4" fill="#fff" stroke="#5c5c5c" stroke-width="0.85" />
<text x="184.2" y="279.4" font-size="2.6" font-weight="bold" text-anchor="middle" fill="#777" >1</text>
<rect x="157.75" y="129.25" width="51" height="17.75" fill="#fff" stroke="#000" stroke-width="1.2" />
<line x1="157.75" y1="140" x2="208.75" y2="140" stroke="#000" stroke-width="1.0" />
<rect x="158.26" y="140.75" width="7.4" height="5.5" fill="none" stroke="#000" stroke-width="0.5" />
<text x="161.96" y="145.2" font-size="4.6" font-weight="bold" text-anchor="middle" fill="#000" textLength="5.1" lengthAdjust="spacingAndGlyphs">F3</text>
<rect x="166.47" y="140.75" width="17.19" height="5.5" fill="none" stroke="#000" stroke-width="0.5" />
<text x="175.07" y="145.2" font-size="4.6" font-weight="bold" text-anchor="middle" fill="#000" textLength="12.95" lengthAdjust="spacingAndGlyphs">+0.15</text>
<rect x="184.58" y="140.75" width="6.43" height="5.5" fill="none" stroke="#000" stroke-width="0.5" />
<line x1="187.09" y1="143.7" x2="188.49" y2="143.7" stroke="#000" stroke-width="0.8" />
<rect x="191.87" y="140.75" width="16.27" height="5.5" fill="none" stroke="#000" stroke-width="0.5" />
<line x1="199.3" y1="143.7" x2="200.7" y2="143.7" stroke="#000" stroke-width="0.8" />
<line x1="182.6" y1="135.2" x2="183.9" y2="135.2" stroke="#000" stroke-width="0.9" />
<rect x="106.6" y="201.5" width="50.8" height="18.7" fill="#fff" stroke="#000" stroke-width="1.2" />
<line x1="106.6" y1="212.6" x2="157.4" y2="212.6" stroke="#000" stroke-width="1.0" />
<rect x="107.11" y="213.35" width="7.37" height="6.1" fill="none" stroke="#000" stroke-width="0.5" />
<text x="110.79" y="218.15" font-size="4.7" font-weight="bold" text-anchor="middle" fill="#000" textLength="5.1" lengthAdjust="spacingAndGlyphs">F2</text>
<rect x="115.29" y="213.35" width="17.12" height="6.1" fill="none" stroke="#000" stroke-width="0.5" />
<text x="123.85" y="218.12" font-size="4.7" font-weight="bold" text-anchor="middle" fill="#000" textLength="12.9" lengthAdjust="spacingAndGlyphs">+0.20</text>
<rect x="133.32" y="213.35" width="6.4" height="6.1" fill="none" stroke="#000" stroke-width="0.5" />
<text x="136.52" y="218.1" font-size="4.7" font-weight="bold" text-anchor="middle" fill="#000" textLength="5.1" lengthAdjust="spacingAndGlyphs">C1</text>
<rect x="140.59" y="213.35" width="16.21" height="6.1" fill="none" stroke="#000" stroke-width="0.5" />
<text x="148.69" y="217.86" font-size="4" font-weight="bold" text-anchor="middle" fill="#000" textLength="9.7" lengthAdjust="spacingAndGlyphs">2.60</text>
<rect x="106.6" y="238.8" width="50.8" height="18.8" fill="#fff" stroke="#000" stroke-width="1.2" />
<line x1="106.6" y1="249.9" x2="157.4" y2="249.9" stroke="#000" stroke-width="1.0" />
<rect x="107.11" y="250.65" width="7.37" height="6.2" fill="none" stroke="#000" stroke-width="0.5" />
<text x="110.79" y="255.5" font-size="4.7" font-weight="bold" text-anchor="middle" fill="#000" textLength="5.1" lengthAdjust="spacingAndGlyphs">F2</text>
<rect x="115.29" y="250.65" width="17.12" height="6.2" fill="none" stroke="#000" stroke-width="0.5" />
<text x="123.85" y="255.47" font-size="4.7" font-weight="bold" text-anchor="middle" fill="#000" textLength="12.9" lengthAdjust="spacingAndGlyphs">+0.20</text>
<rect x="133.32" y="250.65" width="6.4" height="6.2" fill="none" stroke="#000" stroke-width="0.5" />
<text x="136.52" y="255.45" font-size="4.7" font-weight="bold" text-anchor="middle" fill="#000" textLength="5.1" lengthAdjust="spacingAndGlyphs">C1</text>
<rect x="140.59" y="250.65" width="16.21" height="6.2" fill="none" stroke="#000" stroke-width="0.5" />
<text x="148.69" y="255.21" font-size="4" font-weight="bold" text-anchor="middle" fill="#000" textLength="9.7" lengthAdjust="spacingAndGlyphs">2.60</text>
<rect x="314.5" y="220" width="47.25" height="16.75" fill="#fff" stroke="#000" stroke-width="1.2" />
<line x1="314.5" y1="229.5" x2="361.75" y2="229.5" stroke="#000" stroke-width="1.0" />
<rect x="314.97" y="230.25" width="6.85" height="5.75" fill="none" stroke="#000" stroke-width="0.5" />
<text x="318.4" y="234.88" font-size="4.7" font-weight="bold" text-anchor="middle" fill="#000" textLength="4.74" lengthAdjust="spacingAndGlyphs">F1</text>
<rect x="322.58" y="230.25" width="15.92" height="5.75" fill="none" stroke="#000" stroke-width="0.5" />
<text x="330.54" y="234.85" font-size="4.7" font-weight="bold" text-anchor="middle" fill="#000" textLength="12" lengthAdjust="spacingAndGlyphs">+0.30</text>
<rect x="339.35" y="230.25" width="5.95" height="5.75" fill="none" stroke="#000" stroke-width="0.5" />
<text x="342.33" y="234.83" font-size="4.7" font-weight="bold" text-anchor="middle" fill="#000" textLength="4.74" lengthAdjust="spacingAndGlyphs">C1</text>
<rect x="346.11" y="230.25" width="15.07" height="5.75" fill="none" stroke="#000" stroke-width="0.5" />
<text x="353.65" y="234.58" font-size="4" font-weight="bold" text-anchor="middle" fill="#000" textLength="9.02" lengthAdjust="spacingAndGlyphs">2.60</text>
<rect x="210.5" y="320.3" width="46.6" height="17.3" fill="#fff" stroke="#000" stroke-width="1.2" />
<line x1="210.5" y1="330.2" x2="257.1" y2="330.2" stroke="#000" stroke-width="1.0" />
<rect x="210.97" y="330.95" width="6.76" height="5.9" fill="none" stroke="#000" stroke-width="0.5" />
<text x="214.35" y="335.65" font-size="4.7" font-weight="bold" text-anchor="middle" fill="#000" textLength="4.67" lengthAdjust="spacingAndGlyphs">F1</text>
<rect x="218.47" y="330.95" width="15.7" height="5.9" fill="none" stroke="#000" stroke-width="0.5" />
<text x="226.32" y="335.62" font-size="4.7" font-weight="bold" text-anchor="middle" fill="#000" textLength="11.84" lengthAdjust="spacingAndGlyphs">+0.20</text>
<rect x="235.01" y="330.95" width="5.87" height="5.9" fill="none" stroke="#000" stroke-width="0.5" />
<line x1="237.25" y1="334.1" x2="238.65" y2="334.1" stroke="#000" stroke-width="0.8" />
<rect x="241.68" y="330.95" width="14.87" height="5.9" fill="none" stroke="#000" stroke-width="0.5" />
<line x1="248.41" y1="334.1" x2="249.81" y2="334.1" stroke="#000" stroke-width="0.8" />
<rect x="417.5" y="246.25" width="47" height="16.25" fill="#fff" stroke="#000" stroke-width="1.2" />
<line x1="417.5" y1="255.75" x2="464.5" y2="255.75" stroke="#000" stroke-width="1.0" />
<rect x="417.97" y="256.5" width="6.81" height="5.25" fill="none" stroke="#000" stroke-width="0.5" />
<text x="421.38" y="260.83" font-size="4.6" font-weight="bold" text-anchor="middle" fill="#000" textLength="4.72" lengthAdjust="spacingAndGlyphs">F3</text>
<rect x="425.54" y="256.5" width="15.84" height="5.25" fill="none" stroke="#000" stroke-width="0.5" />
<text x="433.46" y="260.83" font-size="4.6" font-weight="bold" text-anchor="middle" fill="#000" textLength="11.93" lengthAdjust="spacingAndGlyphs">+0.10</text>
<rect x="442.22" y="256.5" width="5.92" height="5.25" fill="none" stroke="#000" stroke-width="0.5" />
<line x1="444.48" y1="259.32" x2="445.88" y2="259.32" stroke="#000" stroke-width="0.8" />
<rect x="448.94" y="256.5" width="14.99" height="5.25" fill="none" stroke="#000" stroke-width="0.5" />
<line x1="455.74" y1="259.32" x2="457.14" y2="259.32" stroke="#000" stroke-width="0.8" />
<text x="116.8" y="211.07" font-size="7" font-weight="bold" text-anchor="start" fill="#000" textLength="27.6" lengthAdjust="spacingAndGlyphs" stroke="#000" stroke-width="0.2">ห้องน้ำ 1</text>
<text x="116.8" y="248.37" font-size="7" font-weight="bold" text-anchor="start" fill="#000" textLength="27.6" lengthAdjust="spacingAndGlyphs" stroke="#000" stroke-width="0.2">ห้องน้ำ 2</text>
<text x="325" y="228.16" font-size="7.5" font-weight="bold" text-anchor="start" fill="#000" textLength="25" lengthAdjust="spacingAndGlyphs" stroke="#000" stroke-width="0.2">ห้องนอน</text>
<text x="223" y="328.76" font-size="7.5" font-weight="bold" text-anchor="start" fill="#000" textLength="20.75" lengthAdjust="spacingAndGlyphs" stroke="#000" stroke-width="0.2">ระเบียง</text>
<text x="423" y="254.36" font-size="7.2" font-weight="bold" text-anchor="start" fill="#000" textLength="32.4" lengthAdjust="spacingAndGlyphs" stroke="#000" stroke-width="0.2">จอดรถยนต์</text>
<g transform="translate(280.1 191.2) rotate(90)">
<rect x="0" y="-0.6" width="47" height="17.3" fill="#fff" stroke="#000" stroke-width="1.2" />
<line x1="0" y1="9.7" x2="47" y2="9.7" stroke="#000" stroke-width="1.0" />
<rect x="0.47" y="10.45" width="6.78" height="5.5" fill="none" stroke="#000" stroke-width="0.5" />
<text x="3.86" y="14.95" font-size="4.7" font-weight="bold" text-anchor="middle" fill="#000" textLength="4.72" lengthAdjust="spacingAndGlyphs">F1</text>
<rect x="7.99" y="10.45" width="15.75" height="5.5" fill="none" stroke="#000" stroke-width="0.5" />
<text x="15.87" y="14.92" font-size="4.7" font-weight="bold" text-anchor="middle" fill="#000" textLength="11.94" lengthAdjust="spacingAndGlyphs">+0.30</text>
<rect x="24.59" y="10.45" width="5.89" height="5.5" fill="none" stroke="#000" stroke-width="0.5" />
<text x="27.54" y="14.9" font-size="4.7" font-weight="bold" text-anchor="middle" fill="#000" textLength="4.72" lengthAdjust="spacingAndGlyphs">C1</text>
<rect x="31.28" y="10.45" width="14.91" height="5.5" fill="none" stroke="#000" stroke-width="0.5" />
<text x="38.73" y="14.66" font-size="4" font-weight="bold" text-anchor="middle" fill="#000" textLength="8.97" lengthAdjust="spacingAndGlyphs">2.60</text>
<text x="5.6" y="8.55" font-size="9" font-weight="bold" text-anchor="start" fill="#000" textLength="35.8" lengthAdjust="spacingAndGlyphs" stroke="#000" stroke-width="0.2">ห้องแต่งตัว</text>
</g>
<polyline points="208.75,139.25 222,139.25 222,193.5" fill="none" stroke="#000" stroke-width="1" />
<polygon points="220.6,189.8 222,194.4 223.4,189.8" fill="#000" stroke="#000" stroke-width="0.6" />
<polyline points="157.3,212.5 170.3,212.5 182.8,219.8" fill="none" stroke="#000" stroke-width="0.9" />
<polyline points="157.3,249.6 170.3,249.6 182.8,256.6" fill="none" stroke="#000" stroke-width="0.9" />
<polygon points="612.1,207 594.8,224.3 630,224.3" fill="#000" stroke="#000" stroke-width="0" />
<circle cx="612.4" cy="224.1" r="10.3" fill="#fff" stroke="#000" stroke-width="1.1"/>
<line x1="602.1" y1="224.1" x2="622.7" y2="224.1" stroke="#000" stroke-width="0.9" />
<text x="612.4" y="223" font-size="9.6" font-weight="normal" text-anchor="middle" fill="#000" >A</text>
<text x="612.4" y="230.7" font-size="6.6" font-weight="normal" text-anchor="middle" fill="#000" textLength="16.8" lengthAdjust="spacingAndGlyphs">A-07</text>
<polygon points="262,393.3 280.6,376 280.6,410.8" fill="#000" stroke="#000" stroke-width="0" />
<circle cx="280.75" cy="393.3" r="10.1" fill="#fff" stroke="#000" stroke-width="1.1"/>
<line x1="270.65" y1="393.3" x2="290.85" y2="393.3" stroke="#000" stroke-width="0.9" />
<text x="280.75" y="392.2" font-size="10.4" font-weight="normal" text-anchor="middle" fill="#000" >B</text>
<text x="280.75" y="399.9" font-size="7.2" font-weight="normal" text-anchor="middle" fill="#000" textLength="17.6" lengthAdjust="spacingAndGlyphs">A-07</text>
<rect x="566" y="370.5" width="38.2" height="37.5" fill="#000" stroke="#000" stroke-width="0" />
<line x1="566" y1="370.5" x2="604.2" y2="408" stroke="#fff" stroke-width="2.6" />
<line x1="604.2" y1="370.5" x2="566" y2="408" stroke="#fff" stroke-width="2.6" />
<circle cx="585" cy="370.6" r="10.6" fill="#fff" stroke="#000" stroke-width="1.1"/>
<line x1="574.4" y1="371.8" x2="595.6" y2="371.8" stroke="#000" stroke-width="0.9" />
<text x="585" y="370.1" font-size="10" font-weight="bold" text-anchor="middle" fill="#000" >3</text>
<text x="585" y="378.3" font-size="5.6" font-weight="bold" text-anchor="middle" fill="#000" textLength="15.6" lengthAdjust="spacingAndGlyphs">A-06</text>
<circle cx="565.9" cy="389.2" r="10.6" fill="#fff" stroke="#000" stroke-width="1.1"/>
<line x1="555.3" y1="390.4" x2="576.5" y2="390.4" stroke="#000" stroke-width="0.9" />
<text x="565.9" y="388.7" font-size="10" font-weight="bold" text-anchor="middle" fill="#000" >2</text>
<text x="565.9" y="396.9" font-size="5.6" font-weight="bold" text-anchor="middle" fill="#000" textLength="15.6" lengthAdjust="spacingAndGlyphs">A-05</text>
<circle cx="604.2" cy="389.2" r="10.6" fill="#fff" stroke="#000" stroke-width="1.1"/>
<line x1="593.6" y1="390.4" x2="614.8" y2="390.4" stroke="#000" stroke-width="0.9" />
<text x="604.2" y="388.7" font-size="10" font-weight="bold" text-anchor="middle" fill="#000" >4</text>
<text x="604.2" y="396.9" font-size="5.6" font-weight="bold" text-anchor="middle" fill="#000" textLength="15.6" lengthAdjust="spacingAndGlyphs">A-06</text>
<circle cx="585" cy="408.1" r="10.6" fill="#fff" stroke="#000" stroke-width="1.1"/>
<line x1="574.4" y1="409.3" x2="595.6" y2="409.3" stroke="#000" stroke-width="0.9" />
<text x="585" y="407.6" font-size="10" font-weight="bold" text-anchor="middle" fill="#000" >1</text>
<text x="585" y="415.8" font-size="5.6" font-weight="bold" text-anchor="middle" fill="#000" textLength="15.6" lengthAdjust="spacingAndGlyphs">A-05</text>
<text x="542.9" y="434.27" font-size="10.5" font-weight="normal" text-anchor="start" fill="#000" textLength="85.1" lengthAdjust="spacingAndGlyphs" stroke="#000" stroke-width="0.2">ทิศทางการมองรูปด้าน</text>
<text x="559" y="475.02" font-size="16" font-weight="bold" text-anchor="start" fill="#000" textLength="65" lengthAdjust="spacingAndGlyphs" stroke="#000" stroke-width="0.4">แปลนพื้น</text>
<line x1="555.8" y1="479.8" x2="627.6" y2="479.8" stroke="#000" stroke-width="1.15" />
<text x="556.6" y="486.6" font-size="3.6" font-weight="bold" text-anchor="start" fill="#000" >SCALE</text>
<text x="628" y="486.6" font-size="3.6" font-weight="bold" text-anchor="end" fill="#000" >1:75</text>
<rect x="22.8" y="434" width="51.6" height="43.2" fill="#858585" stroke="#000" stroke-width="0" />
<path d="M22.8 425.8C33.5 430 40.7 436.5 40.7 443L40.7 455.4Q40.7 459.4 44.7 459.4L53.2 459.4Q57.2 459.4 57.2 455.4L57.2 443C57.2 436.5 64.5 430 74.4 425.8L74.4 420L22.8 420Z" fill="#fff"/>
<path d="M22.8 425.8C33.5 430 40.7 436.5 40.7 443L40.7 455.4Q40.7 459.4 44.7 459.4L53.2 459.4Q57.2 459.4 57.2 455.4L57.2 443C57.2 436.5 64.5 430 74.4 425.8L74.4 434.1C69 437 65.4 440 65.4 443.5L65.4 462.4Q65.4 467.1 60.7 467.1L36.5 467.1Q31.8 467.1 31.8 462.4L31.8 443.5C31.8 440 28 437 22.8 434.1Z" fill="#a8a8a8" stroke="#c8c8c8" stroke-width="0.6"/>
<text x="101.9" y="476.9" font-size="70" font-weight="normal" text-anchor="middle" fill="#a3a3a3" textLength="43.6" lengthAdjust="spacingAndGlyphs" stroke="#a3a3a3" stroke-width="2.6" stroke-linejoin="round">S</text>
<text x="127.2" y="445.7" font-size="25.2" font-weight="normal" text-anchor="start" fill="#979797" textLength="193" lengthAdjust="spacing" stroke="#979797" stroke-width="0.9">IAMPLAN.COM</text>
<line x1="127.2" y1="451.3" x2="319.8" y2="451.3" stroke="#555" stroke-width="1.3" />
<text x="138.9" y="469.92" font-size="15" font-weight="bold" text-anchor="start" fill="#9a9a9a" textLength="172.2" lengthAdjust="spacingAndGlyphs" stroke="#9a9a9a" stroke-width="0.3">สยามแปลนเราสารฝันสู่บ้านคุณ</text>
</svg>
</body></html>
